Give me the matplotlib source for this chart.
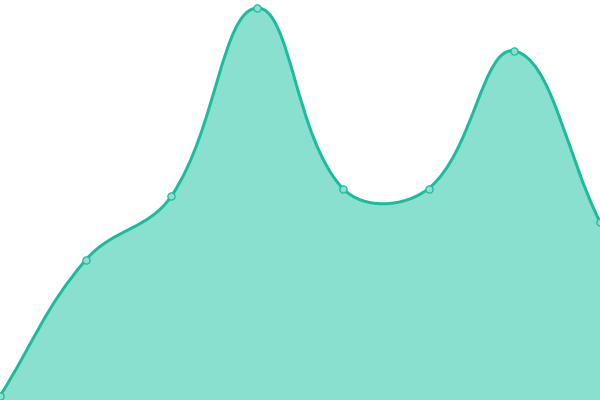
import numpy as np
import matplotlib
matplotlib.use("Agg")
import matplotlib.pyplot as plt
from matplotlib.path import Path
from matplotlib.patches import PathPatch

categories = list(range(8))
values = [4, 140, 204, 392, 211.5, 211.5, 349, 178]

LINE = "#1abc9c"
FILL = "#8ae0cf"
TENSION = 0.4

W, H = 600, 400
XMAX, YMAX = 7, 400

def spline_path(xs, ys, t):
    # distance-weighted cardinal spline computed in pixel space
    sx, sy = W / XMAX, H / YMAX
    pts = np.column_stack([np.array(xs, float) * sx, np.array(ys, float) * sy])
    n = len(pts)
    cin, cout = [], []
    for i in range(n):
        prev = pts[max(i - 1, 0)]
        cur = pts[i]
        nxt = pts[min(i + 1, n - 1)]
        d01 = np.hypot(*(cur - prev))
        d12 = np.hypot(*(nxt - cur))
        tot = d01 + d12
        s01 = d01 / tot if tot else 0
        s12 = d12 / tot if tot else 0
        cin.append(cur - t * s01 * (nxt - prev))
        cout.append(cur + t * s12 * (nxt - prev))
    scale = np.array([sx, sy])
    verts = [tuple(pts[0] / scale)]
    codes = [Path.MOVETO]
    for i in range(n - 1):
        verts += [tuple(cout[i] / scale), tuple(cin[i + 1] / scale), tuple(pts[i + 1] / scale)]
        codes += [Path.CURVE4] * 3
    return verts, codes

fig = plt.figure(figsize=(6, 4), dpi=100)
ax = fig.add_axes([0, 0, 1, 1])
ax.set_xlim(0, XMAX)
ax.set_ylim(0, YMAX)
ax.axis("off")

verts, codes = spline_path(categories, values, TENSION)
fverts = verts + [(categories[-1], 0), (categories[0], 0), verts[0]]
fcodes = codes + [Path.LINETO, Path.LINETO, Path.CLOSEPOLY]
ax.add_patch(PathPatch(Path(fverts, fcodes), facecolor=FILL, edgecolor="none", zorder=1))
ax.add_patch(PathPatch(Path(verts, codes), facecolor="none", edgecolor=LINE, lw=2.15, zorder=2))
ax.plot(categories, values, linestyle="none", marker="o", markersize=5.2,
        markerfacecolor=FILL, markeredgecolor=LINE, markeredgewidth=0.9,
        zorder=3, clip_on=False)

fig.savefig("out.png", dpi=100)
